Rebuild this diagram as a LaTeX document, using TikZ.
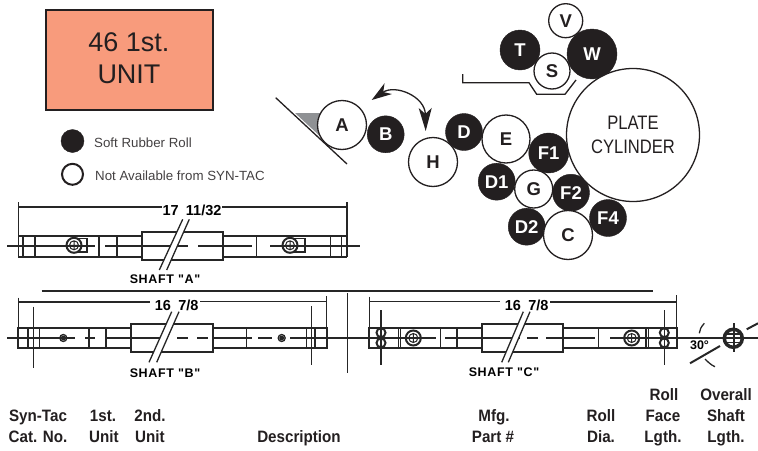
\documentclass[tikz,border=0pt]{standalone}
\usepackage{fontspec}
\setmainfont{Liberation Sans}
\newfontfamily\headfont[FakeStretch=0.92]{Liberation Sans}
\newfontfamily\platefont[FakeStretch=0.85]{Liberation Sans}
\newfontfamily\shaftfont[LetterSpace=5]{Liberation Sans}
\usetikzlibrary{arrows.meta,positioning}
\definecolor{unitred}{HTML}{F89B7C}
\definecolor{inkblack}{HTML}{231F20}
\definecolor{bladegray}{HTML}{8F9194}
\tikzset{soft roll/.style={circle,fill=inkblack,draw=inkblack,text=white,font=\fontsize{18.5}{18.5}\selectfont\bfseries,minimum size=#1,inner sep=0pt},
         hard roll/.style={circle,fill=white,draw=inkblack,line width=1.3pt,text=inkblack,font=\fontsize{18.5}{18.5}\selectfont\bfseries,minimum size=#1,inner sep=0pt},
         legend text/.style={text=inkblack!85,font=\fontsize{13.3}{13.3}\selectfont,anchor=west,inner sep=0pt},
         head text/.style={text=inkblack,font=\headfont\fontsize{16.5}{16.5}\selectfont\bfseries,inner sep=0pt,anchor=base},
         dim text/.style={fill=white,font=\fontsize{14.5}{14.5}\selectfont\bfseries,inner sep=1pt},
         shaft text/.style={font=\shaftfont\fontsize{12.5}{12.5}\selectfont\bfseries,inner sep=0pt},
         shaft/.style={line width=1.3pt,black!85},
         heavy/.style={line width=2pt,black!85},
         bearing/.pic={
            \draw[heavy] (0,0) circle (7.5);
            \draw[line width=1pt,black!85] (0,0) circle (4.5) (-4.5,0) -- (4.5,0) (0,-4.5) -- (0,4.5);
         }
}

\begin{document}
\begin{tikzpicture}[x=1pt,y=-1pt]
\useasboundingbox (0,0) rectangle (758,450);

% unit box and legend
\node[draw=inkblack,line width=2pt,fill=unitred,minimum width=167pt,minimum height=100pt,inner sep=0pt] (unit) at (129,60) {};
\node[inner sep=0pt,align=center,text=inkblack,font=\fontsize{27}{32}\selectfont] (unit text) at (129,58) {46 1st.\\UNIT};
\node[soft roll=23pt] (soft) at (72.5,141) {};
\node[hard roll=21pt,line width=2pt] (hard) at (72.5,174.3) {};
\node[legend text] (softtext) at (94,143) {Soft Rubber Roll};
\node[legend text] (hardtext) at (95,176) {Not Available from SYN-TAC};

% doctor blade
\fill[bladegray] (295,113) -- (322,113) -- (322,138) -- cycle;
\draw[line width=1.3pt,inkblack] (275.7,97.7) -- (347,164);

% swing arrow
\coordinate (swing a) at (371.7,100);
\coordinate (swing b) at (425.7,131);
\draw[{Stealth[length=20pt,width=13pt,inset=6pt]}-{Stealth[length=23pt,width=13pt,inset=6pt]},line width=1.3pt,inkblack] (swing a) .. controls (395,84) and (425,96) .. (swing b);

% tray
\draw[line width=1.3pt,inkblack] (462.7,74) -- (462.7,82.7) -- (529,82.7) -- (536.7,94.3) -- (565,94.3) -- (576,80);

% rolls
\foreach \name/\txt/\px/\py/\d in {W/W/592/54/50,T/T/520/50/40,D/D/464/132/37,F1/F1/548.7/153/40,D1/D1/496.7/181.7/37,F2/F2/571/192.7/37,F4/F4/608/218/37,D2/D2/526.7/226.7/37,B/B/385.7/134.3/37}
  \node[soft roll=\d pt] (\name) at (\px,\py) {\txt};
\foreach \name/\txt/\px/\py/\d in {V/V/565.7/20.7/34,S/S/552/71/36,E/E/506/139/48,G/G/533.7/189/38,C/C/568/235/49,H/H/433/162/49,A/A/342/125/49}
  \node[hard roll=\d pt] (\name) at (\px,\py) {\txt};
\node[circle,draw=inkblack,line width=1.3pt,fill=white,minimum size=133pt,inner sep=0pt,align=center,text=inkblack,font=\platefont\fontsize{19.5}{23.7}\selectfont] (plate) at (633,135) {PLATE\\CYLINDER};

% shaft A
\draw[shaft] (18.3,202) -- (18.3,256.5);
\draw[shaft] (347,202) -- (347,256.5);
\draw[heavy] (18.3,207.3) -- (347,207.3);
\draw[shaft] (18.3,236) rectangle (347,256.5);
\draw[heavy] (18.3,256.5) -- (347,256.5);
\foreach \x in {23,35,256.7,330.7,341.7} \draw[shaft] (\x,236) -- (\x,256.5);
\foreach \x in {99,116.7} \draw[heavy] (\x,236) -- (\x,256.5);
\draw[heavy,fill=white] (141.7,231.7) rectangle (223.3,260);
\foreach \a/\b in {7/95,105/188,198/252,270/360} \draw[heavy] (\a,245.5) -- (\b,245.5);
\pic at (74,245.3) {bearing};
\pic at (290,245.3) {bearing};
\draw[shaft] (78,238.5) -- (87,238.5) -- (87,252) -- (78,252);
\draw[shaft] (294,238.5) -- (305,238.5) -- (305,252) -- (294,252);
\fill[white] (182.7,219.3) -- (189.3,219.3) -- (166.7,270) -- (159.3,270) -- cycle;
\draw[shaft] (182.7,219.3) -- (159.3,270) (189.3,219.3) -- (166.7,270);
\node[dim text] (dim a) at (192,210.7) {17\,\,\,11/32};
\node[shaft text] (label a) at (165,279) {SHAFT\,\,"A"};

% rule and separator
\draw[heavy] (41.7,290.7) -- (653,290.7);
\draw[shaft] (347.7,293) -- (347.7,373);

% shaft B
\draw[shaft] (18.3,297.7) -- (18.3,347.7);
\draw[shaft] (326.7,296) -- (326.7,347.7);
\draw[heavy] (18.3,301.7) -- (150,301.7);
\draw[line width=.8pt,black!85] (200,301.7) -- (326.7,301.7);
\draw[shaft] (33.3,306.7) -- (33.3,368);
\draw[shaft] (311.7,306) -- (311.7,365);
\draw[heavy] (18.3,328.3) rectangle (326.7,347.7);
\foreach \x in {28,39.3,246.7,306.7,315} \draw[shaft] (\x,328.3) -- (\x,347.7);
\foreach \x in {89.3,106} \draw[heavy] (\x,328.3) -- (\x,347.7);
\draw[heavy,fill=white] (130.7,324.3) rectangle (212.7,351.7);
\foreach \x in {63.3,281.7} {
  \draw[shaft] (\x,338) circle (3.5);
  \fill[black!85] (\x,338) circle (2.5);
}

% shaft C
\draw[shaft] (369.3,296.7) -- (369.3,347.7);
\draw[shaft] (676.7,295) -- (676.7,347.7);
\draw[line width=.8pt,black!85] (369.3,301.7) -- (500,301.7);
\draw[heavy] (550,301.7) -- (676.7,301.7);
\draw[heavy] (369.3,328.3) rectangle (676.7,347.7);
\foreach \x in {398.3,400.7,440.7,598.3,646,648.3} \draw[shaft] (\x,328.3) -- (\x,347.7);
\draw[heavy] (457.3,328.3) -- (457.3,347.7);
\draw[heavy,fill=white] (482.3,324.3) rectangle (563.3,351.7);
\foreach \a/\b in {7/75,85/95,106/160,177/188,197/208,213/252,258/272,290/436,445/520,527/538,546/595,610/758} \draw[heavy] (\a,338) -- (\b,338);
\foreach \x in {381,664.3} {
  \draw[shaft] (\x,310) -- (\x,365);
  \draw[heavy] (\x,332.7) circle (4.5) (\x,342.9) circle (4.5);
}
\pic at (413.3,338) {bearing};
\pic at (631.7,338) {bearing};

% slashes over both long shafts
\fill[white] (171.7,311.7) -- (179,311.7) -- (156.7,362.3) -- (149,362.3) -- cycle;
\draw[shaft] (171.7,311.7) -- (149,362.3) (179,311.7) -- (156.7,362.3);
\node[dim text] (dim b) at (176.7,305) {16\,\,\,7/8};
\node[shaft text] (label b) at (165,373) {SHAFT\,\,"B"};
\fill[white] (523.3,311.7) -- (530,311.7) -- (508.3,362.3) -- (501.7,362.3) -- cycle;
\draw[shaft] (523.3,311.7) -- (501.7,362.3) (530,311.7) -- (508.3,362.3);
\node[dim text] (dim c) at (526.7,305) {16\,\,\,7/8};
\node[shaft text] (label c) at (504,372) {SHAFT\,\,"C"};

% end view
\draw[line width=3.5pt,black!85] (733.3,338.3) circle (9);
\draw[line width=1.3pt,black!85] (733.3,332) -- (733.3,345) (726,334) -- (741,334) (726,342.5) -- (741,342.5);
\draw[shaft] (734,323) -- (734,352);
\draw[heavy] (746.7,329.3) -- (758,323.3);
\draw[heavy] (690,363.3) -- (720,346);
\draw[shaft] (704.3,323.3) .. controls (701,327) and (699.5,330) .. (699.3,333.3);
\draw[shaft] (705,359) .. controls (708,362) and (711,365) .. (715,366.7);
\node[shaft text,font=\fontsize{12.5}{12.5}\selectfont\bfseries] (angle) at (699.5,345.7) {30°};

% column heads
\foreach \name/\txt/\px/\py in {sy/Syn-Tac/38/421.5,ca/Cat. No./38/442,fi/1st./103/421.5,fu/Unit/104/442,se/2nd./150/421.5,su/Unit/150/442,de/Description/299/442,mf/Mfg./494/421.5,pa/Part \#/493/442,ro/Roll/601/421.5,di/Dia./601/442,rf/Roll/664/400,fa/Face/663/421.5,lg/Lgth./663/442,ov/Overall/726/400,sh/Shaft/726/421.5,ls/Lgth./726/442}
  \node[head text] (\name) at (\px,\py) {\txt};
\end{tikzpicture}
\end{document}
